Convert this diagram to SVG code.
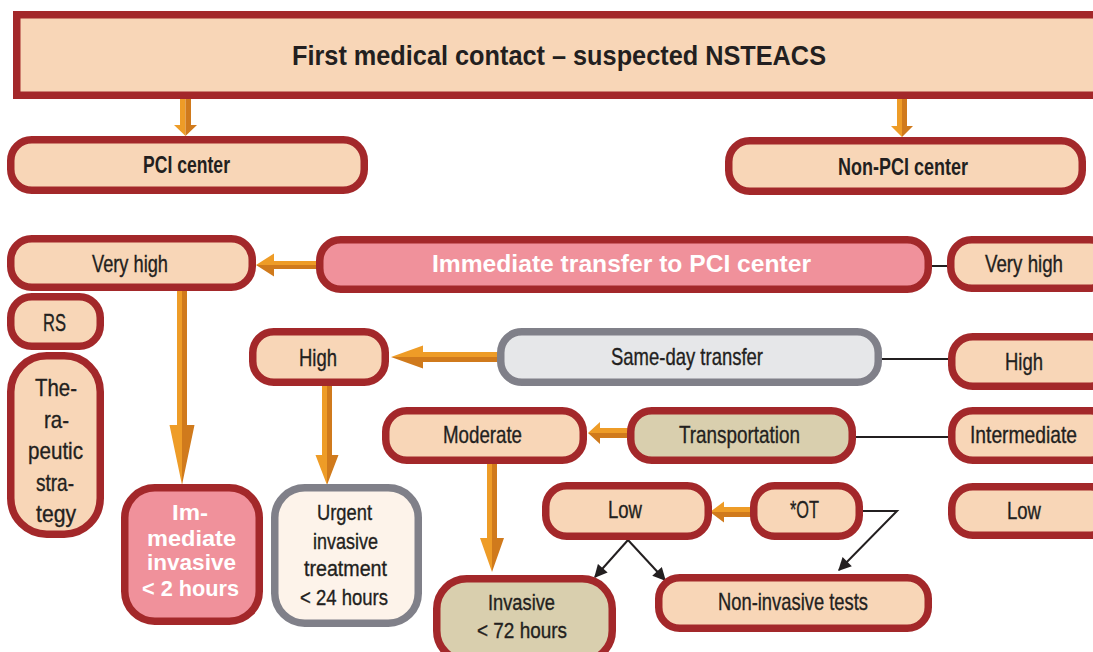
<svg xmlns="http://www.w3.org/2000/svg" width="1093" height="652" viewBox="0 0 1093 652">
<style>
.bx{fill:#F8D6B7;stroke:#A3282A;stroke-width:7.5}
.pk{fill:#F0919B;stroke:#A3282A;stroke-width:7.5}
.kh{fill:#D9CFAE;stroke:#A3282A;stroke-width:7.5}
.gy{fill:#E6E7E9;stroke:#808089;stroke-width:7.5}
.cr{fill:#FDF3EA;stroke:#808089;stroke-width:7.5}
text{font-family:"Liberation Sans Narrow","Liberation Sans",Arial,sans-serif;font-size:24px;fill:#231F20;text-anchor:middle;stroke:#231F20;stroke-width:0.35}
.b{font-weight:bold;stroke:none}
.w{fill:#FFFFFF;font-weight:bold;stroke:none}
.s{font-size:22px}
.lt{fill:#EE9C27}
.dk{fill:#D07A1C}
.ln{stroke:#231F20;stroke-width:2;fill:none}
</style>
<defs>
<marker id="ah" viewBox="0 0 10 10" refX="9" refY="5" markerWidth="14" markerHeight="13" markerUnits="userSpaceOnUse" orient="auto">
<path d="M0,0 L10,5 L0,10 Z" fill="#231F20"/>
</marker>
</defs>

<g id="connectors">
<g id="a1"><path class="lt" d="M180,99 H185.5 V136 L174,125 H180 Z"/><path class="dk" d="M185.5,99 H191 V125 H197 L185.5,136 Z"/></g>
<g id="a2"><path class="lt" d="M897,99 H902 V137 L891,126 H897 Z"/><path class="dk" d="M902,99 H907 V126 H913 L902,137 Z"/></g>
<g id="a3"><path class="lt" d="M318,261 H274 V253.5 L256,265 H318 Z"/><path class="dk" d="M318,265 H256 L274,276.5 V269 H318 Z"/></g>
<g id="a4"><path class="lt" d="M177,291 H182 V485 L169.5,425 H177 Z"/><path class="dk" d="M182,291 H187 V425 H194.5 L182,485 Z"/></g>
<g id="a5"><path class="lt" d="M499,352 H423 V345.5 L391,357 H499 Z"/><path class="dk" d="M499,357 H391 L423,368.5 V362 H499 Z"/></g>
<g id="a6"><path class="lt" d="M322,386 H327 V485 L315.5,455 H322 Z"/><path class="dk" d="M327,386 H332 V455 H338.5 L327,485 Z"/></g>
<g id="a7"><path class="lt" d="M630,428 H600 V422 L588,433 H630 Z"/><path class="dk" d="M630,433 H588 L600,444 V438 H630 Z"/></g>
<g id="a8"><path class="lt" d="M487,464 H492 V572 L480,538 H487 Z"/><path class="dk" d="M492,464 H497 V538 H504 L492,572 Z"/></g>
<g id="a9"><path class="lt" d="M752,507 H724 V501.5 L710,512 H752 Z"/><path class="dk" d="M752,512 H710 L724,522.5 V517 H752 Z"/></g>
<line class="ln" x1="930" y1="266" x2="950" y2="266"/>
<line class="ln" x1="880" y1="359" x2="950" y2="359"/>
<line class="ln" x1="854" y1="437" x2="950" y2="437"/>
<polyline class="ln" points="861,511 897,511 839,570" marker-end="url(#ah)"/>
<line class="ln" x1="628" y1="540" x2="595" y2="577" marker-end="url(#ah)"/>
<line class="ln" x1="628" y1="540" x2="665" y2="580" marker-end="url(#ah)"/>
</g>

<g id="n-first"><rect x="16.75" y="14.75" width="1090" height="80.5" fill="#F8D6B7" stroke="#A3282A" stroke-width="7.5"/>
<text x="559" y="65" class="b" style="font-size:27px" textLength="534" lengthAdjust="spacingAndGlyphs">First medical contact – suspected NSTEACS</text></g>

<g id="n-pci"><rect class="bx" x="10.75" y="139.75" width="353.5" height="50.5" rx="21"/>
<text x="186.5" y="173" class="b" textLength="87" lengthAdjust="spacingAndGlyphs">PCI center</text></g>

<g id="n-nonpci"><rect class="bx" x="728.75" y="140.75" width="353.5" height="50.5" rx="21"/>
<text x="903" y="175" class="b" textLength="130" lengthAdjust="spacingAndGlyphs">Non-PCI center</text></g>

<g id="n-veryhigh-l"><rect class="bx" x="10.75" y="238.75" width="241.5" height="48.5" rx="21"/>
<text x="130" y="272" textLength="76" lengthAdjust="spacingAndGlyphs">Very high</text></g>

<g id="n-immediate"><rect class="pk" x="319.75" y="239.75" width="608.5" height="49.5" rx="21"/>
<text x="621.5" y="272" class="w" textLength="379" lengthAdjust="spacingAndGlyphs">Immediate transfer to PCI center</text></g>

<g id="n-veryhigh-r"><rect class="bx" x="950.75" y="239.75" width="160" height="48.5" rx="21"/>
<text x="1024" y="272" textLength="78" lengthAdjust="spacingAndGlyphs">Very high</text></g>

<g id="n-rs"><rect class="bx" x="10.75" y="296.75" width="89.5" height="49.5" rx="21"/>
<text x="54.5" y="331" textLength="23" lengthAdjust="spacingAndGlyphs">RS</text></g>

<g id="n-therapeutic"><rect class="bx" x="10.75" y="355.75" width="89.5" height="178.5" rx="36"/>
<text x="56" y="396" textLength="42" lengthAdjust="spacingAndGlyphs">The-</text>
<text x="56.5" y="427.5" textLength="25" lengthAdjust="spacingAndGlyphs">ra-</text>
<text x="55.5" y="459" textLength="55" lengthAdjust="spacingAndGlyphs">peutic</text>
<text x="55" y="490.5" textLength="38" lengthAdjust="spacingAndGlyphs">stra-</text>
<text x="56" y="522" textLength="40" lengthAdjust="spacingAndGlyphs">tegy</text></g>

<g id="n-high"><rect class="bx" x="252.75" y="331.75" width="132.5" height="50.5" rx="21"/>
<text x="318" y="366" textLength="38" lengthAdjust="spacingAndGlyphs">High</text></g>

<g id="n-sameday"><rect class="gy" x="500.75" y="331.75" width="377.5" height="50.5" rx="21"/>
<text x="687" y="365" textLength="152" lengthAdjust="spacingAndGlyphs">Same-day transfer</text></g>

<g id="n-high-r"><rect class="bx" x="951.75" y="336.75" width="160" height="49.5" rx="21"/>
<text x="1024" y="370" textLength="38" lengthAdjust="spacingAndGlyphs">High</text></g>

<g id="n-moderate"><rect class="bx" x="385.75" y="410.75" width="197.5" height="49.5" rx="21"/>
<text x="482.5" y="443" textLength="79" lengthAdjust="spacingAndGlyphs">Moderate</text></g>

<g id="n-transport"><rect class="kh" x="630.75" y="410.75" width="221.5" height="49.5" rx="21"/>
<text x="739.5" y="443" textLength="121" lengthAdjust="spacingAndGlyphs">Transportation</text></g>

<g id="n-intermediate"><rect class="bx" x="951.75" y="410.75" width="160" height="49.5" rx="21"/>
<text x="1023.5" y="443" textLength="107" lengthAdjust="spacingAndGlyphs">Intermediate</text></g>

<g id="n-low-r"><rect class="bx" x="951.75" y="486.75" width="160" height="48.5" rx="21"/>
<text x="1024" y="519" textLength="34" lengthAdjust="spacingAndGlyphs">Low</text></g>

<g id="n-low"><rect class="bx" x="545.75" y="485.75" width="162.5" height="50.5" rx="21"/>
<text x="625" y="518" textLength="34" lengthAdjust="spacingAndGlyphs">Low</text></g>

<g id="n-ot"><rect class="bx" x="753.75" y="485.75" width="105.5" height="50.5" rx="21"/>
<text x="804.5" y="518" textLength="29" lengthAdjust="spacingAndGlyphs">*OT</text></g>

<g id="n-imm-invasive"><rect class="pk" x="124.75" y="487.75" width="134.5" height="133.5" rx="30"/>
<text x="190" y="520" class="w s" textLength="36" lengthAdjust="spacingAndGlyphs">Im-</text>
<text x="191.5" y="546" class="w s" textLength="89" lengthAdjust="spacingAndGlyphs">mediate</text>
<text x="191.5" y="570" class="w s" textLength="89" lengthAdjust="spacingAndGlyphs">invasive</text>
<text x="190.5" y="596" class="w s" textLength="97" lengthAdjust="spacingAndGlyphs">&lt; 2 hours</text></g>

<g id="n-urgent"><rect class="cr" x="274.75" y="487.75" width="143.5" height="135.5" rx="30"/>
<text x="344.5" y="520" class="s" textLength="55" lengthAdjust="spacingAndGlyphs">Urgent</text>
<text x="345.5" y="549" class="s" textLength="65" lengthAdjust="spacingAndGlyphs">invasive</text>
<text x="345.5" y="576" class="s" textLength="83" lengthAdjust="spacingAndGlyphs">treatment</text>
<text x="344" y="605" class="s" textLength="88" lengthAdjust="spacingAndGlyphs">&lt; 24 hours</text></g>

<g id="n-invasive"><rect class="kh" x="436.75" y="578.75" width="175.5" height="82" rx="30"/>
<text x="521.5" y="610" class="s" textLength="67" lengthAdjust="spacingAndGlyphs">Invasive</text>
<text x="522" y="638" class="s" textLength="90" lengthAdjust="spacingAndGlyphs">&lt; 72 hours</text></g>

<g id="n-noninvasive"><rect class="bx" x="658.75" y="577.75" width="269.5" height="50.5" rx="21"/>
<text x="793" y="610" textLength="150" lengthAdjust="spacingAndGlyphs">Non-invasive tests</text></g>
</svg>
